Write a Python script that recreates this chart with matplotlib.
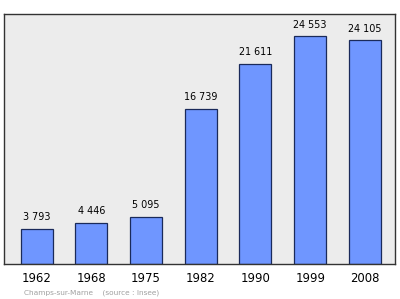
import matplotlib

matplotlib.use("Agg")
import matplotlib.pyplot as plt

years = ["1962", "1968", "1975", "1982", "1990", "1999", "2008"]
population = [3793, 4446, 5095, 16739, 21611, 24553, 24105]
value_labels = ["3 793", "4 446", "5 095", "16 739", "21 611", "24 553", "24 105"]

fig = plt.figure(figsize=(4.0, 2.99), dpi=100)
ax = fig.add_axes([4 / 400, 1 - 264 / 299, 391 / 400, 250 / 299])
ax.set_facecolor("#ececec")

x = range(len(years))
ax.bar(x, population, width=0.585, color="#6f96ff", edgecolor="#1a2a5a", linewidth=0.9)
for xi, v, lab in zip(x, population, value_labels):
    ax.text(xi, v + 700, lab, ha="center", va="bottom", fontsize=6.9, color="black")

ax.set_xlim(-0.595, 6.55)
ax.set_ylim(0, 26950)
ax.set_yticks([])
ax.set_xticks(list(x))
ax.set_xticklabels(years, fontsize=8.4)
ax.tick_params(axis="x", length=0, pad=6)
for side in ax.spines.values():
    side.set_color("#333333")
    side.set_linewidth(1.0)

fig.text(24 / 400, 1 - 293 / 299, "Champs-sur-Marne    (source : Insee)",
         fontsize=5.3, color="#a0a0a0", va="center")

fig.savefig("out.png", dpi=100)
